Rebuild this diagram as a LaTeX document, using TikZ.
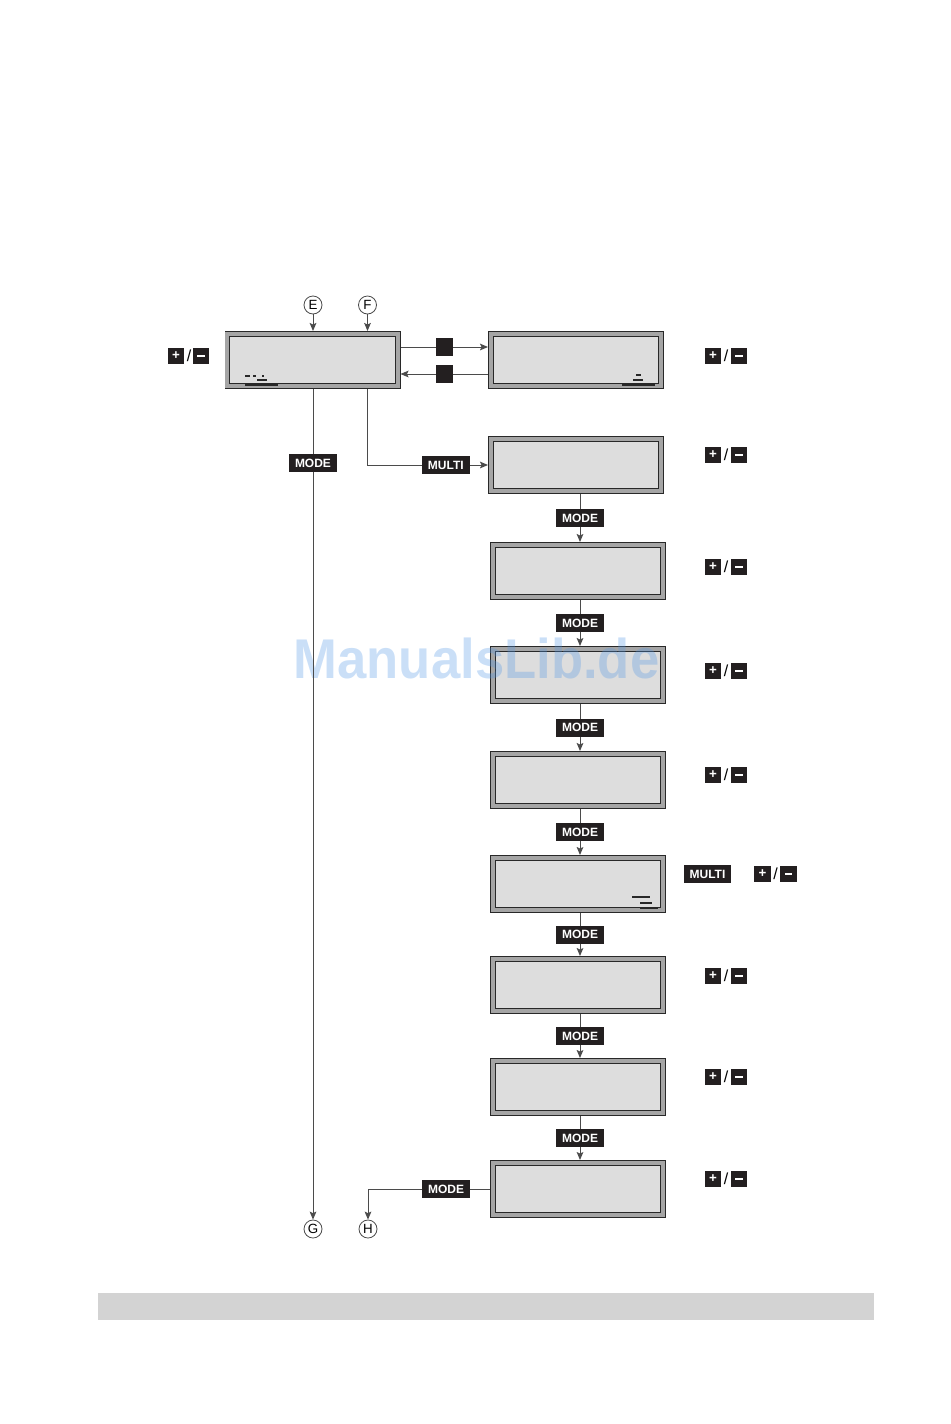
\documentclass[tikz,border=0pt]{standalone}
\usepackage{fontspec}
\setmainfont{Liberation Sans}
\usetikzlibrary{arrows.meta,calc}
\definecolor{lcdfill}{RGB}{221,221,221}
\definecolor{lcdband}{RGB}{165,165,165}
\definecolor{lcdline}{RGB}{40,40,40}
\definecolor{keyblack}{RGB}{35,31,32}
\definecolor{wirec}{RGB}{75,75,75}
\definecolor{barfill}{RGB}{211,211,211}
\definecolor{wmark}{RGB}{80,150,230}
\newcommand{\minusbar}{\rule{5.5pt}{1.4pt}}
\newcommand{\plusmark}{\raisebox{-0.3pt}{+}}
\begin{document}
\begin{tikzpicture}[x=0.75pt,y=-0.75pt,
 lcd/.style={draw=lcdline, line width=0.6pt, double=lcdband, double distance=3pt, fill=lcdfill,
   minimum width=127.8pt, minimum height=39.3pt, inner sep=0pt, outer sep=2.1pt},
 key/.style={fill=keyblack, text=white, font=\bfseries\fontsize{9}{9}\selectfont,
   inner sep=0pt, minimum width=36pt, minimum height=13.5pt},
 sqkey/.style={fill=keyblack, inner sep=0pt, minimum width=12.5pt, minimum height=13pt},
 pmkey/.style={fill=keyblack, text=white, font=\bfseries\fontsize{10}{10}\selectfont,
   inner sep=0pt, minimum size=12.5pt},
 slash/.style={font=\fontsize{12}{12}\selectfont, inner sep=0pt},
 letter/.style={circle, draw=wirec, line width=0.6pt, minimum size=13.5pt, inner sep=0pt,
   font=\fontsize{10}{10}\selectfont},
 arr/.style={draw=wirec, line width=0.7pt, -{Stealth[length=6pt,width=5pt,inset=1.2pt]}},
 glyph/.style={draw=lcdline, line width=1.5pt}
]
\useasboundingbox (0,0) rectangle (950,1424);

% LCD displays
\node[lcd] (b1) at (312.5,360) {};
\node[lcd] (b2) at (576,360) {};
\node[lcd] (b3) at (576,465) {};
\node[lcd] (b4) at (578,571) {};
\node[lcd] (b5) at (578,675) {};
\node[lcd] (b6) at (578,780) {};
\node[lcd] (b7) at (578,884) {};
\node[lcd] (b8) at (578,985) {};
\node[lcd] (b9) at (578,1087) {};
\node[lcd] (b10) at (578,1189) {};

% small display marks
\draw[glyph] (245,385) -- (278,385);
\draw[draw=lcdline, line width=0.8pt] (257,380) -- (267,380);
\draw[draw=lcdline, line width=0.8pt] (245,376) -- (250,376) (253,376) -- (256,376) (262,376) -- (264,376);
\draw[glyph] (622,385) -- (655,385);
\draw[draw=lcdline, line width=0.8pt] (633,380) -- (643,380) (636,375) -- (641,375);
\draw[glyph, line width=1pt] (640,908) -- (658,908);
\draw[draw=lcdline, line width=0.8pt] (640,903) -- (652,903) (632,897) -- (650,897);

% watermark
\node[font=\bfseries\fontsize{42}{42}\selectfont, text=wmark, opacity=0.3, inner sep=0pt,
  anchor=base, xscale=0.94] (wm) at (476.5,678) {ManualsLib.de};

% connectors labels
\node[letter] (E) at (313,305) {E};
\node[letter] (F) at (367.5,305) {F};
\node[letter] (G) at (313,1229) {G};
\node[letter] (H) at (368,1229) {H};
\coordinate (cx) at (580,0);

\draw[arr] (E) -- (E |- b1.north);
\draw[arr] (F) -- (F |- b1.north);

\draw[arr] (b1.east |- 0,347) -- node[sqkey] (s1) {} (b2.west |- 0,347);
\draw[arr] (b2.west |- 0,374) -- node[sqkey] (s2) {} (b1.east |- 0,374);

\draw[arr] (b1.south -| G) -- (G);
\node[key] (m0) at (313,463) {MODE};

\draw[arr] (b1.south -| F) |- node[key, pos=0.825] (mu1) {MULTI} (b3.west);

\draw[arr] (b3.south -| cx) -- node[key] (m1) {MODE} (b4.north -| cx);
\draw[arr] (b4.south -| cx) -- node[key] (m2) {MODE} (b5.north -| cx);
\draw[arr] (b5.south -| cx) -- node[key] (m3) {MODE} (b6.north -| cx);
\draw[arr] (b6.south -| cx) -- node[key] (m4) {MODE} (b7.north -| cx);
\draw[arr] (b7.south -| cx) -- node[key] (m5) {MODE} (b8.north -| cx);
\draw[arr] (b8.south -| cx) -- node[key] (m6) {MODE} (b9.north -| cx);
\draw[arr] (b9.south -| cx) -- node[key] (m7) {MODE} (b10.north -| cx);

\draw[arr] (b10.west) -| node[key, pos=0.18] (m8) {MODE} (H);

% +/- keys
\node[pmkey] (lp) at (176,356) {\plusmark};
\node[slash] (ls) at (189,356) {/};
\node[pmkey] (lm) at (201,356) {\minusbar};
\foreach \y [count=\i] in {356,455,567,671,775,976,1077,1179} {
  \node[pmkey] (pp\i) at (713,\y) {\plusmark};
  \node[slash] (ps\i) at (726,\y) {/};
  \node[pmkey] (pm\i) at (739,\y) {\minusbar};
}
\node[key, minimum width=35.5pt] (mu2) at (707.5,874) {MULTI};
\node[pmkey] (rp) at (762.5,874) {\plusmark};
\node[slash] (rs) at (775.5,874) {/};
\node[pmkey] (rm) at (788.5,874) {\minusbar};

% bottom bar
\fill[barfill] (98,1293) rectangle (874,1320);
\end{tikzpicture}
\end{document}
